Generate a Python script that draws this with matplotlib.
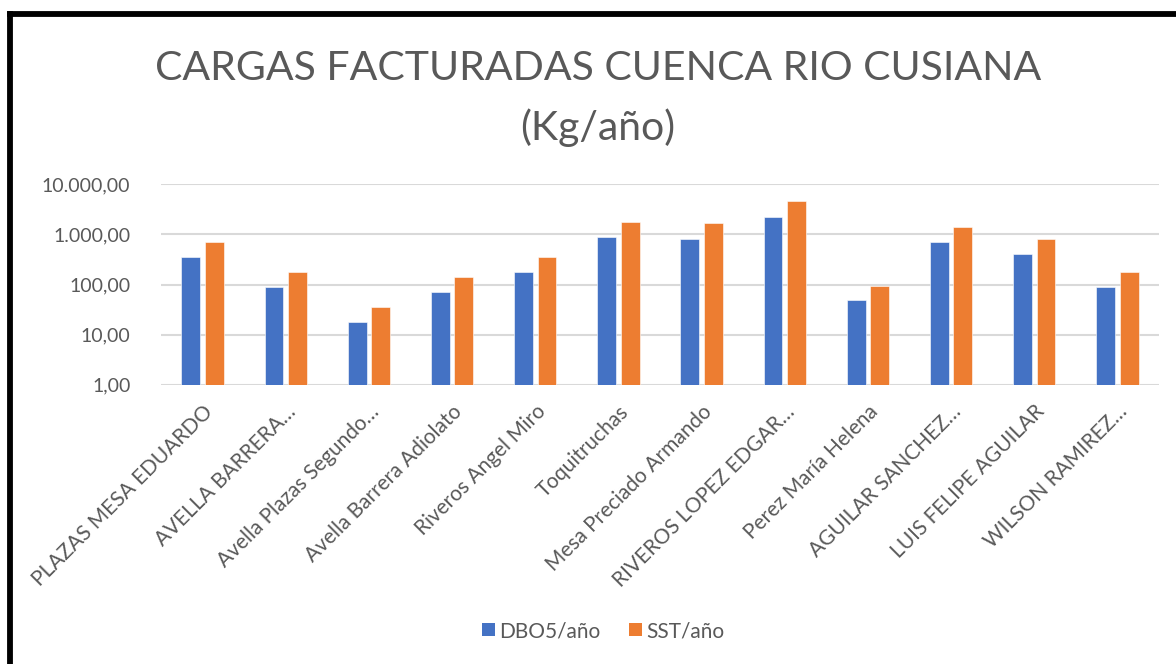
import numpy as np
import matplotlib

matplotlib.use("Agg")
import matplotlib.pyplot as plt
from matplotlib.lines import Line2D
from matplotlib.patches import Patch
from matplotlib.ticker import FuncFormatter, FixedLocator

plt.rcParams["font.family"] = ["Lato", "DejaVu Sans"]

categories = [
    "PLAZAS MESA EDUARDO",
    "AVELLA BARRERA…",
    "Avella Plazas Segundo…",
    "Avella Barrera Adiolato",
    "Riveros Angel Miro",
    "Toquitruchas",
    "Mesa Preciado Armando",
    "RIVEROS LOPEZ EDGAR…",
    "Perez María Helena",
    "AGUILAR SANCHEZ…",
    "LUIS FELIPE AGUILAR",
    "WILSON RAMIREZ…",
]
dbo5 = [350, 88, 17.6, 70, 176, 875, 820, 2230, 49, 705, 401, 88]
sst = [705, 176, 35, 141, 354, 1770, 1660, 4570, 95, 1405, 809, 178]
series_names = ["DBO5/año", "SST/año"]
y_ticks = [1, 10, 100, 1000, 10000]

BLUE = "#4472C4"
ORANGE = "#ED7D31"
GREY = "#595959"


def es_format(v, _pos=None):
    s = f"{v:,.2f}"
    return s.replace(",", "X").replace(".", ",").replace("X", ".")


fig = plt.figure(figsize=(11.76, 6.64), dpi=100)
fig.patch.set_facecolor("white")

W, H = 1176, 664
ax = fig.add_axes([161 / W, 1 - 384.7 / H, (1159 - 161) / W, (384.7 - 184.3) / H])

x = np.arange(len(categories))
bw = 0.228
gap = 0.055
ax.bar(x - (bw + gap) / 2, dbo5, width=bw, color=BLUE, edgecolor="white", linewidth=0.4, zorder=3)
ax.bar(x + (bw + gap) / 2, sst, width=bw, color=ORANGE, edgecolor="white", linewidth=0.4, zorder=3)

ax.set_yscale("log")
ax.set_ylim(1, 10000)
ax.set_xlim(-0.5, len(categories) - 0.5)
ax.yaxis.set_major_locator(FixedLocator(y_ticks))
ax.yaxis.set_minor_locator(FixedLocator([]))
ax.yaxis.set_major_formatter(FuncFormatter(es_format))
ax.grid(axis="y", color="#D9D9D9", linewidth=1.5, zorder=0)
for sp in ax.spines.values():
    sp.set_visible(False)
ax.tick_params(axis="both", length=0, colors=GREY, labelsize=14)
ax.tick_params(axis="y", pad=22)

ax.set_xticks(x)
ax.set_xticklabels(categories, rotation=45, ha="right", rotation_mode="anchor", fontsize=15, color=GREY)
ax.tick_params(axis="x", pad=12)

fig.text(598 / W, 1 - 68 / H, "CARGAS FACTURADAS CUENCA RIO CUSIANA", ha="center", va="center",
         fontsize=29.5, color=GREY)
fig.text(598 / W, 1 - 128 / H, "(Kg/año)", ha="center", va="center",
         fontsize=29.5, color=GREY)

handles = [Patch(facecolor=BLUE), Patch(facecolor=ORANGE)]
fig.legend(handles, series_names, loc="center", bbox_to_anchor=(603 / W, 1 - 631 / H), ncol=2,
           frameon=False, fontsize=15, labelcolor=GREY, handlelength=0.6, handleheight=0.6,
           handletextpad=0.2, columnspacing=1.4)

# black frame (top and left edges visible in the original)
fig.add_artist(Line2D([9.5 / W, 1], [1 - 14 / H, 1 - 14 / H], color="black", linewidth=4.2,
                      transform=fig.transFigure, solid_capstyle="projecting"))
fig.add_artist(Line2D([9.5 / W, 9.5 / W], [1 - 14 / H, 0], color="black", linewidth=4.2,
                      transform=fig.transFigure, solid_capstyle="projecting"))

fig.savefig("out.png", dpi=100)
